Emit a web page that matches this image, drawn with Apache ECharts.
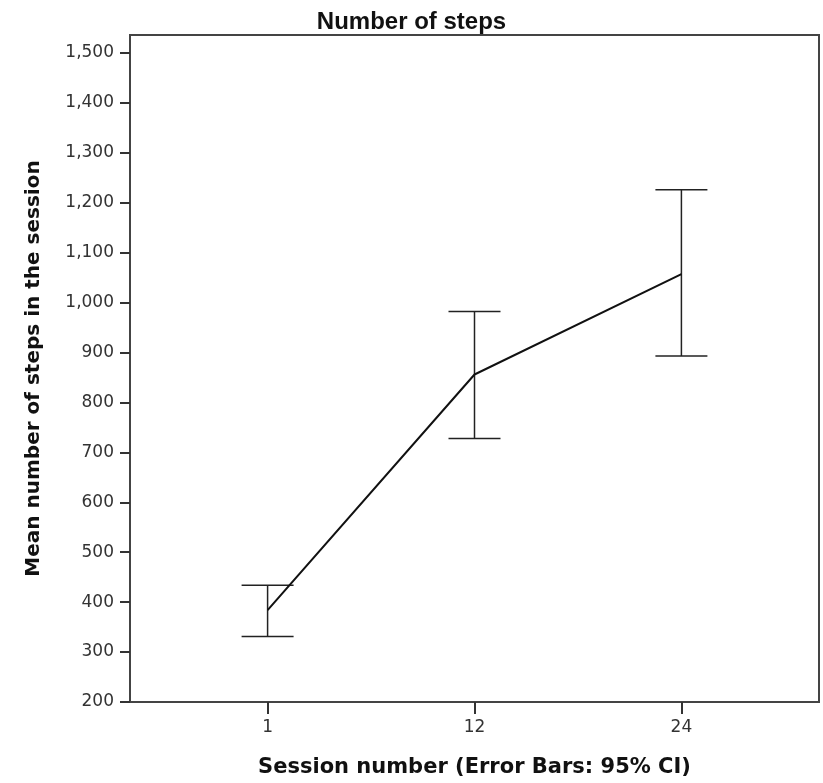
<!DOCTYPE html>
<html>

<head>
    <meta charset="UTF-8">
    <script src="https://cdn.jsdelivr.net/npm/echarts@6/dist/echarts.min.js"></script>
    <style>
    html, body {
        margin: 0;
        padding: 0;
        background: #fff;
    }
    #chart {
        width: 823px;
        height: 783px;
    }
    </style>
</head>

<body>
    <div id="chart"></div>
    <script>
    // session labels on the x axis
    var sessions = ['1', '12', '24'];
    // mean number of steps
    var means = [384, 856, 1057];
    // 95% CI bounds
    var ciLow = [331, 728, 893];
    var ciHigh = [434, 982, 1226];
    // y tick labels
    var yTicks = [200, 300, 400, 500, 600, 700, 800, 900, 1000, 1100, 1200, 1300, 1400, 1500];

    var lineData = means.map(function(v, i) { return [i, v]; });
    var barData = means.map(function(v, i) { return [i, ciLow[i], ciHigh[i]]; });

    var option = {
        animation: false,
        backgroundColor: '#fff',
        title: {
            text: 'Number of steps',
            left: 'center',
            top: 5,
            textStyle: {
                fontFamily: 'Liberation Sans',
                fontSize: 24,
                fontWeight: 'bold',
                color: '#111'
            }
        },
        grid: {
            left: 130,
            right: 4,
            top: 35,
            bottom: 80,
            show: true,
            borderColor: '#444',
            borderWidth: 2,
            backgroundColor: '#fff'
        },
        xAxis: {
            type: 'value',
            min: -0.665,
            max: 2.665,
            name: 'Session number (Error Bars: 95% CI)',
            nameLocation: 'middle',
            nameGap: 55,
            nameTextStyle: {
                fontFamily: 'DejaVu Sans',
                fontSize: 21,
                fontWeight: 'bold',
                color: '#111'
            },
            axisLine: { show: true, onZero: false, lineStyle: { color: '#444', width: 2 } },
            axisTick: {
                show: true,
                length: 12,
                customValues: [0, 1, 2],
                lineStyle: { color: '#333', width: 2 }
            },
            axisLabel: {
                customValues: [0, 1, 2],
                margin: 17,
                fontFamily: 'DejaVu Sans',
                fontSize: 17,
                color: '#333',
                formatter: function(v) { return sessions[Math.round(v)]; }
            },
            splitLine: { show: false }
        },
        yAxis: {
            type: 'value',
            min: 200,
            max: 1536,
            name: 'Mean number of steps in the session',
            nameLocation: 'middle',
            nameGap: 86,
            nameTextStyle: {
                fontFamily: 'DejaVu Sans',
                fontSize: 20,
                fontWeight: 'bold',
                color: '#111'
            },
            axisLine: { show: true, onZero: false, lineStyle: { color: '#444', width: 2 } },
            axisTick: {
                show: true,
                length: 10,
                customValues: yTicks,
                lineStyle: { color: '#333', width: 2 }
            },
            axisLabel: {
                customValues: yTicks,
                margin: 16,
                fontFamily: 'DejaVu Sans',
                fontSize: 17,
                color: '#333',
                formatter: function(v) { return v.toLocaleString('en-US'); }
            },
            splitLine: { show: false }
        },
        series: [{
            name: 'Mean',
            type: 'line',
            data: lineData,
            showSymbol: false,
            symbol: 'none',
            lineStyle: { color: '#111', width: 2 },
            z: 3
        }, {
            name: '95% CI',
            type: 'custom',
            data: barData,
            renderItem: function(params, api) {
                var x = api.value(0);
                var lo = api.coord([x, api.value(1)]);
                var hi = api.coord([x, api.value(2)]);
                var half = 26;
                var style = { stroke: '#222', lineWidth: 1.5 };
                return {
                    type: 'group',
                    children: [{
                        type: 'line',
                        shape: { x1: lo[0], y1: lo[1], x2: hi[0], y2: hi[1] },
                        style: style
                    }, {
                        type: 'line',
                        shape: { x1: lo[0] - half, y1: lo[1], x2: lo[0] + half, y2: lo[1] },
                        style: style
                    }, {
                        type: 'line',
                        shape: { x1: hi[0] - half, y1: hi[1], x2: hi[0] + half, y2: hi[1] },
                        style: style
                    }]
                };
            },
            z: 2
        }]
    };

    var myChart = echarts.init(document.getElementById('chart'));
    myChart.setOption(option);
    </script>
</body>

</html>
